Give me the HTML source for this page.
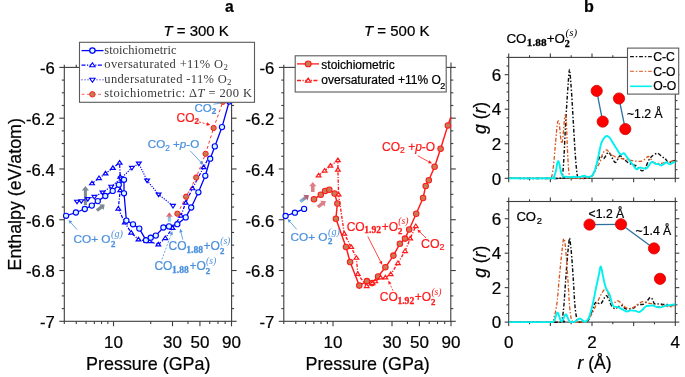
<!DOCTYPE html>
<html><head><meta charset="utf-8"><style>
html,body{margin:0;padding:0;background:#fff;overflow:hidden}
svg{display:block;will-change:transform}
</style></head><body>
<svg width="685" height="377" viewBox="0 0 685 377">
<rect width="685" height="377" fill="#fff"/>
<g stroke="#3c3c3c" stroke-width="1.1" fill="none">
<rect x="64.3" y="67.4" width="167.3" height="253.9"/>
<line x1="59.3" y1="67.4" x2="64.3" y2="67.4"/>
<line x1="231.6" y1="67.4" x2="236.6" y2="67.4"/>
<line x1="61.8" y1="80.09" x2="64.3" y2="80.09"/>
<line x1="231.6" y1="80.09" x2="234.1" y2="80.09"/>
<line x1="61.8" y1="92.79" x2="64.3" y2="92.79"/>
<line x1="231.6" y1="92.79" x2="234.1" y2="92.79"/>
<line x1="61.8" y1="105.49" x2="64.3" y2="105.49"/>
<line x1="231.6" y1="105.49" x2="234.1" y2="105.49"/>
<line x1="59.3" y1="118.18" x2="64.3" y2="118.18"/>
<line x1="231.6" y1="118.18" x2="236.6" y2="118.18"/>
<line x1="61.8" y1="130.88" x2="64.3" y2="130.88"/>
<line x1="231.6" y1="130.88" x2="234.1" y2="130.88"/>
<line x1="61.8" y1="143.57" x2="64.3" y2="143.57"/>
<line x1="231.6" y1="143.57" x2="234.1" y2="143.57"/>
<line x1="61.8" y1="156.26" x2="64.3" y2="156.26"/>
<line x1="231.6" y1="156.26" x2="234.1" y2="156.26"/>
<line x1="59.3" y1="168.96" x2="64.3" y2="168.96"/>
<line x1="231.6" y1="168.96" x2="236.6" y2="168.96"/>
<line x1="61.8" y1="181.66" x2="64.3" y2="181.66"/>
<line x1="231.6" y1="181.66" x2="234.1" y2="181.66"/>
<line x1="61.8" y1="194.35" x2="64.3" y2="194.35"/>
<line x1="231.6" y1="194.35" x2="234.1" y2="194.35"/>
<line x1="61.8" y1="207.04" x2="64.3" y2="207.04"/>
<line x1="231.6" y1="207.04" x2="234.1" y2="207.04"/>
<line x1="59.3" y1="219.74" x2="64.3" y2="219.74"/>
<line x1="231.6" y1="219.74" x2="236.6" y2="219.74"/>
<line x1="61.8" y1="232.44" x2="64.3" y2="232.44"/>
<line x1="231.6" y1="232.44" x2="234.1" y2="232.44"/>
<line x1="61.8" y1="245.13" x2="64.3" y2="245.13"/>
<line x1="231.6" y1="245.13" x2="234.1" y2="245.13"/>
<line x1="61.8" y1="257.83" x2="64.3" y2="257.83"/>
<line x1="231.6" y1="257.83" x2="234.1" y2="257.83"/>
<line x1="59.3" y1="270.52" x2="64.3" y2="270.52"/>
<line x1="231.6" y1="270.52" x2="236.6" y2="270.52"/>
<line x1="61.8" y1="283.21" x2="64.3" y2="283.21"/>
<line x1="231.6" y1="283.21" x2="234.1" y2="283.21"/>
<line x1="61.8" y1="295.91" x2="64.3" y2="295.91"/>
<line x1="231.6" y1="295.91" x2="234.1" y2="295.91"/>
<line x1="61.8" y1="308.61" x2="64.3" y2="308.61"/>
<line x1="231.6" y1="308.61" x2="234.1" y2="308.61"/>
<line x1="59.3" y1="321.3" x2="64.3" y2="321.3"/>
<line x1="231.6" y1="321.3" x2="236.6" y2="321.3"/>
<line x1="64.3" y1="321.3" x2="64.3" y2="324"/>
<line x1="64.3" y1="64.7" x2="64.3" y2="67.4"/>
<line x1="76.28" y1="321.3" x2="76.28" y2="324"/>
<line x1="76.28" y1="64.7" x2="76.28" y2="67.4"/>
<line x1="86.07" y1="321.3" x2="86.07" y2="324"/>
<line x1="86.07" y1="64.7" x2="86.07" y2="67.4"/>
<line x1="94.35" y1="321.3" x2="94.35" y2="324"/>
<line x1="94.35" y1="64.7" x2="94.35" y2="67.4"/>
<line x1="101.52" y1="321.3" x2="101.52" y2="324"/>
<line x1="101.52" y1="64.7" x2="101.52" y2="67.4"/>
<line x1="107.85" y1="321.3" x2="107.85" y2="324"/>
<line x1="107.85" y1="64.7" x2="107.85" y2="67.4"/>
<line x1="113.51" y1="321.3" x2="113.51" y2="326.3"/>
<line x1="113.51" y1="62.4" x2="113.51" y2="67.4"/>
<line x1="150.73" y1="321.3" x2="150.73" y2="324"/>
<line x1="150.73" y1="64.7" x2="150.73" y2="67.4"/>
<line x1="172.5" y1="321.3" x2="172.5" y2="326.3"/>
<line x1="172.5" y1="62.4" x2="172.5" y2="67.4"/>
<line x1="187.95" y1="321.3" x2="187.95" y2="324"/>
<line x1="187.95" y1="64.7" x2="187.95" y2="67.4"/>
<line x1="199.93" y1="321.3" x2="199.93" y2="326.3"/>
<line x1="199.93" y1="62.4" x2="199.93" y2="67.4"/>
<line x1="209.72" y1="321.3" x2="209.72" y2="324"/>
<line x1="209.72" y1="64.7" x2="209.72" y2="67.4"/>
<line x1="218" y1="321.3" x2="218" y2="324"/>
<line x1="218" y1="64.7" x2="218" y2="67.4"/>
<line x1="225.17" y1="321.3" x2="225.17" y2="324"/>
<line x1="225.17" y1="64.7" x2="225.17" y2="67.4"/>
<line x1="231.5" y1="321.3" x2="231.5" y2="326.3"/>
<line x1="231.5" y1="62.4" x2="231.5" y2="67.4"/>
</g>
<text x="54.8" y="74.2" font-family='"Liberation Sans",sans-serif' font-size="16.7" text-anchor="end" fill="#000" font-weight="normal" font-style="normal"  stroke="#000" stroke-width="0.22">-6</text>
<text x="54.8" y="124.98" font-family='"Liberation Sans",sans-serif' font-size="16.7" text-anchor="end" fill="#000" font-weight="normal" font-style="normal"  stroke="#000" stroke-width="0.22">-6.2</text>
<text x="54.8" y="175.76" font-family='"Liberation Sans",sans-serif' font-size="16.7" text-anchor="end" fill="#000" font-weight="normal" font-style="normal"  stroke="#000" stroke-width="0.22">-6.4</text>
<text x="54.8" y="226.54" font-family='"Liberation Sans",sans-serif' font-size="16.7" text-anchor="end" fill="#000" font-weight="normal" font-style="normal"  stroke="#000" stroke-width="0.22">-6.6</text>
<text x="54.8" y="277.32" font-family='"Liberation Sans",sans-serif' font-size="16.7" text-anchor="end" fill="#000" font-weight="normal" font-style="normal"  stroke="#000" stroke-width="0.22">-6.8</text>
<text x="54.8" y="328.1" font-family='"Liberation Sans",sans-serif' font-size="16.7" text-anchor="end" fill="#000" font-weight="normal" font-style="normal"  stroke="#000" stroke-width="0.22">-7</text>
<text x="113.51" y="348" font-family='"Liberation Sans",sans-serif' font-size="17" text-anchor="middle" fill="#000" font-weight="normal" font-style="normal"  stroke="#000" stroke-width="0.22">10</text>
<text x="172.5" y="348" font-family='"Liberation Sans",sans-serif' font-size="17" text-anchor="middle" fill="#000" font-weight="normal" font-style="normal"  stroke="#000" stroke-width="0.22">30</text>
<text x="199.93" y="348" font-family='"Liberation Sans",sans-serif' font-size="17" text-anchor="middle" fill="#000" font-weight="normal" font-style="normal"  stroke="#000" stroke-width="0.22">50</text>
<text x="231.5" y="348" font-family='"Liberation Sans",sans-serif' font-size="17" text-anchor="middle" fill="#000" font-weight="normal" font-style="normal"  stroke="#000" stroke-width="0.22">90</text>
<text x="148.25" y="369.9" font-family='"Liberation Sans",sans-serif' font-size="17.9" text-anchor="middle" fill="#000" font-weight="normal" font-style="normal"  stroke="#000" stroke-width="0.22">Pressure (GPa)</text>
<g stroke="#3c3c3c" stroke-width="1.1" fill="none">
<rect x="283.8" y="67.4" width="167" height="253.9"/>
<line x1="278.8" y1="67.4" x2="283.8" y2="67.4"/>
<line x1="450.8" y1="67.4" x2="455.8" y2="67.4"/>
<line x1="281.3" y1="80.09" x2="283.8" y2="80.09"/>
<line x1="450.8" y1="80.09" x2="453.3" y2="80.09"/>
<line x1="281.3" y1="92.79" x2="283.8" y2="92.79"/>
<line x1="450.8" y1="92.79" x2="453.3" y2="92.79"/>
<line x1="281.3" y1="105.49" x2="283.8" y2="105.49"/>
<line x1="450.8" y1="105.49" x2="453.3" y2="105.49"/>
<line x1="278.8" y1="118.18" x2="283.8" y2="118.18"/>
<line x1="450.8" y1="118.18" x2="455.8" y2="118.18"/>
<line x1="281.3" y1="130.88" x2="283.8" y2="130.88"/>
<line x1="450.8" y1="130.88" x2="453.3" y2="130.88"/>
<line x1="281.3" y1="143.57" x2="283.8" y2="143.57"/>
<line x1="450.8" y1="143.57" x2="453.3" y2="143.57"/>
<line x1="281.3" y1="156.26" x2="283.8" y2="156.26"/>
<line x1="450.8" y1="156.26" x2="453.3" y2="156.26"/>
<line x1="278.8" y1="168.96" x2="283.8" y2="168.96"/>
<line x1="450.8" y1="168.96" x2="455.8" y2="168.96"/>
<line x1="281.3" y1="181.66" x2="283.8" y2="181.66"/>
<line x1="450.8" y1="181.66" x2="453.3" y2="181.66"/>
<line x1="281.3" y1="194.35" x2="283.8" y2="194.35"/>
<line x1="450.8" y1="194.35" x2="453.3" y2="194.35"/>
<line x1="281.3" y1="207.04" x2="283.8" y2="207.04"/>
<line x1="450.8" y1="207.04" x2="453.3" y2="207.04"/>
<line x1="278.8" y1="219.74" x2="283.8" y2="219.74"/>
<line x1="450.8" y1="219.74" x2="455.8" y2="219.74"/>
<line x1="281.3" y1="232.44" x2="283.8" y2="232.44"/>
<line x1="450.8" y1="232.44" x2="453.3" y2="232.44"/>
<line x1="281.3" y1="245.13" x2="283.8" y2="245.13"/>
<line x1="450.8" y1="245.13" x2="453.3" y2="245.13"/>
<line x1="281.3" y1="257.83" x2="283.8" y2="257.83"/>
<line x1="450.8" y1="257.83" x2="453.3" y2="257.83"/>
<line x1="278.8" y1="270.52" x2="283.8" y2="270.52"/>
<line x1="450.8" y1="270.52" x2="455.8" y2="270.52"/>
<line x1="281.3" y1="283.21" x2="283.8" y2="283.21"/>
<line x1="450.8" y1="283.21" x2="453.3" y2="283.21"/>
<line x1="281.3" y1="295.91" x2="283.8" y2="295.91"/>
<line x1="450.8" y1="295.91" x2="453.3" y2="295.91"/>
<line x1="281.3" y1="308.61" x2="283.8" y2="308.61"/>
<line x1="450.8" y1="308.61" x2="453.3" y2="308.61"/>
<line x1="278.8" y1="321.3" x2="283.8" y2="321.3"/>
<line x1="450.8" y1="321.3" x2="455.8" y2="321.3"/>
<line x1="283.8" y1="321.3" x2="283.8" y2="324"/>
<line x1="283.8" y1="64.7" x2="283.8" y2="67.4"/>
<line x1="295.78" y1="321.3" x2="295.78" y2="324"/>
<line x1="295.78" y1="64.7" x2="295.78" y2="67.4"/>
<line x1="305.57" y1="321.3" x2="305.57" y2="324"/>
<line x1="305.57" y1="64.7" x2="305.57" y2="67.4"/>
<line x1="313.85" y1="321.3" x2="313.85" y2="324"/>
<line x1="313.85" y1="64.7" x2="313.85" y2="67.4"/>
<line x1="321.02" y1="321.3" x2="321.02" y2="324"/>
<line x1="321.02" y1="64.7" x2="321.02" y2="67.4"/>
<line x1="327.35" y1="321.3" x2="327.35" y2="324"/>
<line x1="327.35" y1="64.7" x2="327.35" y2="67.4"/>
<line x1="333.01" y1="321.3" x2="333.01" y2="326.3"/>
<line x1="333.01" y1="62.4" x2="333.01" y2="67.4"/>
<line x1="370.23" y1="321.3" x2="370.23" y2="324"/>
<line x1="370.23" y1="64.7" x2="370.23" y2="67.4"/>
<line x1="392" y1="321.3" x2="392" y2="326.3"/>
<line x1="392" y1="62.4" x2="392" y2="67.4"/>
<line x1="407.45" y1="321.3" x2="407.45" y2="324"/>
<line x1="407.45" y1="64.7" x2="407.45" y2="67.4"/>
<line x1="419.43" y1="321.3" x2="419.43" y2="326.3"/>
<line x1="419.43" y1="62.4" x2="419.43" y2="67.4"/>
<line x1="429.22" y1="321.3" x2="429.22" y2="324"/>
<line x1="429.22" y1="64.7" x2="429.22" y2="67.4"/>
<line x1="437.5" y1="321.3" x2="437.5" y2="324"/>
<line x1="437.5" y1="64.7" x2="437.5" y2="67.4"/>
<line x1="444.67" y1="321.3" x2="444.67" y2="324"/>
<line x1="444.67" y1="64.7" x2="444.67" y2="67.4"/>
<line x1="451" y1="321.3" x2="451" y2="326.3"/>
<line x1="451" y1="62.4" x2="451" y2="67.4"/>
</g>
<text x="274.3" y="74.2" font-family='"Liberation Sans",sans-serif' font-size="16.7" text-anchor="end" fill="#000" font-weight="normal" font-style="normal"  stroke="#000" stroke-width="0.22">-6</text>
<text x="274.3" y="124.98" font-family='"Liberation Sans",sans-serif' font-size="16.7" text-anchor="end" fill="#000" font-weight="normal" font-style="normal"  stroke="#000" stroke-width="0.22">-6.2</text>
<text x="274.3" y="175.76" font-family='"Liberation Sans",sans-serif' font-size="16.7" text-anchor="end" fill="#000" font-weight="normal" font-style="normal"  stroke="#000" stroke-width="0.22">-6.4</text>
<text x="274.3" y="226.54" font-family='"Liberation Sans",sans-serif' font-size="16.7" text-anchor="end" fill="#000" font-weight="normal" font-style="normal"  stroke="#000" stroke-width="0.22">-6.6</text>
<text x="274.3" y="277.32" font-family='"Liberation Sans",sans-serif' font-size="16.7" text-anchor="end" fill="#000" font-weight="normal" font-style="normal"  stroke="#000" stroke-width="0.22">-6.8</text>
<text x="274.3" y="328.1" font-family='"Liberation Sans",sans-serif' font-size="16.7" text-anchor="end" fill="#000" font-weight="normal" font-style="normal"  stroke="#000" stroke-width="0.22">-7</text>
<text x="333.01" y="348" font-family='"Liberation Sans",sans-serif' font-size="17" text-anchor="middle" fill="#000" font-weight="normal" font-style="normal"  stroke="#000" stroke-width="0.22">10</text>
<text x="392" y="348" font-family='"Liberation Sans",sans-serif' font-size="17" text-anchor="middle" fill="#000" font-weight="normal" font-style="normal"  stroke="#000" stroke-width="0.22">30</text>
<text x="419.43" y="348" font-family='"Liberation Sans",sans-serif' font-size="17" text-anchor="middle" fill="#000" font-weight="normal" font-style="normal"  stroke="#000" stroke-width="0.22">50</text>
<text x="451" y="348" font-family='"Liberation Sans",sans-serif' font-size="17" text-anchor="middle" fill="#000" font-weight="normal" font-style="normal"  stroke="#000" stroke-width="0.22">90</text>
<text x="367.6" y="369.9" font-family='"Liberation Sans",sans-serif' font-size="17.9" text-anchor="middle" fill="#000" font-weight="normal" font-style="normal"  stroke="#000" stroke-width="0.22">Pressure (GPa)</text>
<text transform="translate(21.2,194.3) rotate(-90)" font-family='"Liberation Sans",sans-serif' font-size="17.8" text-anchor="middle" stroke="#000" stroke-width="0.22">Enthalpy (eV/atom)</text>
<text x="163.4" y="35.9" font-family='"Liberation Sans",sans-serif' font-size="15" stroke="#000" stroke-width="0.22"><tspan font-style="italic">T</tspan> = 300 K</text>
<text x="364.0" y="35.5" font-family='"Liberation Sans",sans-serif' font-size="15" stroke="#000" stroke-width="0.22"><tspan font-style="italic">T</tspan> = 500 K</text>
<text transform="translate(224.9,11.9) scale(0.92,1)" font-family='"Liberation Sans",sans-serif' font-size="17" font-weight="bold" stroke="#000" stroke-width="0.22">a</text>
<text transform="translate(584.1,11.9) scale(0.95,1)" font-family='"Liberation Sans",sans-serif' font-size="17" font-weight="bold" stroke="#000" stroke-width="0.22">b</text>

<polygon points="86.9,205 86.9,190.4 89,190.4 85.4,186 81.8,190.4 83.9,190.4 83.9,205" fill="#7b8a93"/>
<polygon points="97.77,211.87 102.32,208.41 103.59,210.09 104.7,204.6 99.12,204.19 100.39,205.87 95.83,209.33" fill="#7b8a93"/>
<polygon points="170.8,221.8 170.8,216.8 172.7,216.8 169.3,212.6 165.9,216.8 167.8,216.8 167.8,221.8" fill="url(#gup)"/>
<polygon points="314.55,192 314.55,186.3 316.4,186.3 312.8,181.9 309.2,186.3 311.05,186.3 311.05,192" fill="#dc7f88"/>
<polygon points="301.18,202.93 306.41,199.08 307.63,200.73 308.9,195.2 303.24,194.77 304.46,196.42 299.22,200.27" fill="url(#gdiag)"/>
<polygon points="318.81,208.37 323.35,205.02 324.54,206.63 325.8,201.1 320.14,200.67 321.33,202.28 316.79,205.63" fill="#dc7f88"/>

<polyline points="92,183.4 99,178.2 105.5,173.6 112.9,168 119.6,162.7 120.2,176.9 120.2,190.3 118.3,208.7 124.8,222.6 131.2,232.7 138.5,239.6 146.4,240.9 149.6,241.3 158.3,244.6 165.3,238.2 172.5,228.1 180.9,215.7 185.7,202.8 192.5,188.4 203.6,167.3 208,159" fill="none" stroke="#0000ff" stroke-width="1.25" stroke-linejoin="round" stroke-dasharray="3.2 1.5 1.1 1.5" />
<polyline points="77,201.6 81.3,201.1 87.8,198.9 94.4,196.8 102.5,192.4 111.2,186.6 121,178.5 131.9,167.8 138.8,163.5 147.1,180.5 158.6,194.5 173,205.8" fill="none" stroke="#0000ff" stroke-width="1.2" stroke-linejoin="round" stroke-dasharray="1.2 1.3" />
<polyline points="66.1,215.8 75.9,212.5 84.8,209 91.8,205.6 97.8,201.1 105.3,196 112.7,190.9 118.8,184.8 124,179.8 124,193.3 126.4,220.6 133,224.3 139.3,228.6 146,240.2 150.7,237.7 155.8,235.6 163.4,227.5 169,226.4 177.3,224.2 185.7,217.4 191.2,207.5 198.4,192.3 205.3,175.8 210.2,158.7 214.8,146.4 222,127.1 229.2,101.5 231.6,94" fill="none" stroke="#0000ff" stroke-width="1.3" stroke-linejoin="round" />
<polygon points="92,181.21 89.65,184.74 94.35,184.74" fill="#fff" stroke="#0000ff" stroke-width="1.2" stroke-linejoin="miter"/>
<polygon points="99,176.01 96.65,179.54 101.35,179.54" fill="#fff" stroke="#0000ff" stroke-width="1.2" stroke-linejoin="miter"/>
<polygon points="105.5,171.41 103.15,174.94 107.85,174.94" fill="#fff" stroke="#0000ff" stroke-width="1.2" stroke-linejoin="miter"/>
<polygon points="112.9,165.81 110.55,169.34 115.25,169.34" fill="#fff" stroke="#0000ff" stroke-width="1.2" stroke-linejoin="miter"/>
<polygon points="119.6,160.51 117.25,164.04 121.95,164.04" fill="#fff" stroke="#0000ff" stroke-width="1.2" stroke-linejoin="miter"/>
<polygon points="120.2,174.71 117.85,178.24 122.55,178.24" fill="#fff" stroke="#0000ff" stroke-width="1.2" stroke-linejoin="miter"/>
<polygon points="120.2,188.11 117.85,191.64 122.55,191.64" fill="#fff" stroke="#0000ff" stroke-width="1.2" stroke-linejoin="miter"/>
<polygon points="118.3,206.51 115.95,210.04 120.65,210.04" fill="#fff" stroke="#0000ff" stroke-width="1.2" stroke-linejoin="miter"/>
<polygon points="124.8,220.41 122.45,223.94 127.15,223.94" fill="#fff" stroke="#0000ff" stroke-width="1.2" stroke-linejoin="miter"/>
<polygon points="131.2,230.51 128.85,234.04 133.55,234.04" fill="#fff" stroke="#0000ff" stroke-width="1.2" stroke-linejoin="miter"/>
<polygon points="138.5,237.41 136.15,240.94 140.85,240.94" fill="#fff" stroke="#0000ff" stroke-width="1.2" stroke-linejoin="miter"/>
<polygon points="146.4,238.71 144.05,242.24 148.75,242.24" fill="#fff" stroke="#0000ff" stroke-width="1.2" stroke-linejoin="miter"/>
<polygon points="149.6,239.11 147.25,242.64 151.95,242.64" fill="#fff" stroke="#0000ff" stroke-width="1.2" stroke-linejoin="miter"/>
<polygon points="158.3,242.41 155.95,245.94 160.65,245.94" fill="#fff" stroke="#0000ff" stroke-width="1.2" stroke-linejoin="miter"/>
<polygon points="165.3,236.01 162.95,239.54 167.65,239.54" fill="#fff" stroke="#0000ff" stroke-width="1.2" stroke-linejoin="miter"/>
<polygon points="172.5,225.91 170.15,229.44 174.85,229.44" fill="#fff" stroke="#0000ff" stroke-width="1.2" stroke-linejoin="miter"/>
<polygon points="180.9,213.51 178.55,217.04 183.25,217.04" fill="#fff" stroke="#0000ff" stroke-width="1.2" stroke-linejoin="miter"/>
<polygon points="185.7,200.61 183.35,204.14 188.05,204.14" fill="#fff" stroke="#0000ff" stroke-width="1.2" stroke-linejoin="miter"/>
<polygon points="192.5,186.21 190.15,189.74 194.85,189.74" fill="#fff" stroke="#0000ff" stroke-width="1.2" stroke-linejoin="miter"/>
<polygon points="203.6,165.11 201.25,168.64 205.95,168.64" fill="#fff" stroke="#0000ff" stroke-width="1.2" stroke-linejoin="miter"/>
<polygon points="77,203.79 74.65,200.26 79.35,200.26" fill="#fff" stroke="#0000ff" stroke-width="1.2" stroke-linejoin="miter"/>
<polygon points="81.3,203.29 78.95,199.76 83.65,199.76" fill="#fff" stroke="#0000ff" stroke-width="1.2" stroke-linejoin="miter"/>
<polygon points="87.8,201.09 85.45,197.56 90.15,197.56" fill="#fff" stroke="#0000ff" stroke-width="1.2" stroke-linejoin="miter"/>
<polygon points="94.4,198.99 92.05,195.46 96.75,195.46" fill="#fff" stroke="#0000ff" stroke-width="1.2" stroke-linejoin="miter"/>
<polygon points="102.5,194.59 100.15,191.06 104.85,191.06" fill="#fff" stroke="#0000ff" stroke-width="1.2" stroke-linejoin="miter"/>
<polygon points="111.2,188.79 108.85,185.26 113.55,185.26" fill="#fff" stroke="#0000ff" stroke-width="1.2" stroke-linejoin="miter"/>
<polygon points="121,180.69 118.65,177.16 123.35,177.16" fill="#fff" stroke="#0000ff" stroke-width="1.2" stroke-linejoin="miter"/>
<polygon points="131.9,169.99 129.55,166.46 134.25,166.46" fill="#fff" stroke="#0000ff" stroke-width="1.2" stroke-linejoin="miter"/>
<polygon points="138.8,165.69 136.45,162.16 141.15,162.16" fill="#fff" stroke="#0000ff" stroke-width="1.2" stroke-linejoin="miter"/>
<polygon points="147.1,182.69 144.75,179.16 149.45,179.16" fill="#fff" stroke="#0000ff" stroke-width="1.2" stroke-linejoin="miter"/>
<polygon points="158.6,196.69 156.25,193.16 160.95,193.16" fill="#fff" stroke="#0000ff" stroke-width="1.2" stroke-linejoin="miter"/>
<polygon points="173,207.99 170.65,204.46 175.35,204.46" fill="#fff" stroke="#0000ff" stroke-width="1.2" stroke-linejoin="miter"/>
<circle cx="66.1" cy="215.8" r="2.6" fill="#d4faff" stroke="#0000ff" stroke-width="1.1"/>
<circle cx="75.9" cy="212.5" r="2.6" fill="#d4faff" stroke="#0000ff" stroke-width="1.1"/>
<circle cx="84.8" cy="209" r="2.6" fill="#d4faff" stroke="#0000ff" stroke-width="1.1"/>
<circle cx="91.8" cy="205.6" r="2.6" fill="#d4faff" stroke="#0000ff" stroke-width="1.1"/>
<circle cx="97.8" cy="201.1" r="2.6" fill="#d4faff" stroke="#0000ff" stroke-width="1.1"/>
<circle cx="105.3" cy="196" r="2.6" fill="#d4faff" stroke="#0000ff" stroke-width="1.1"/>
<circle cx="112.7" cy="190.9" r="2.6" fill="#d4faff" stroke="#0000ff" stroke-width="1.1"/>
<circle cx="118.8" cy="184.8" r="2.6" fill="#d4faff" stroke="#0000ff" stroke-width="1.1"/>
<circle cx="124" cy="179.8" r="2.6" fill="#d4faff" stroke="#0000ff" stroke-width="1.1"/>
<circle cx="124" cy="193.3" r="2.6" fill="#d4faff" stroke="#0000ff" stroke-width="1.1"/>
<circle cx="126.4" cy="220.6" r="2.6" fill="#d4faff" stroke="#0000ff" stroke-width="1.1"/>
<circle cx="133" cy="224.3" r="2.6" fill="#d4faff" stroke="#0000ff" stroke-width="1.1"/>
<circle cx="139.3" cy="228.6" r="2.6" fill="#d4faff" stroke="#0000ff" stroke-width="1.1"/>
<circle cx="146" cy="240.2" r="2.6" fill="#d4faff" stroke="#0000ff" stroke-width="1.1"/>
<circle cx="150.7" cy="237.7" r="2.6" fill="#d4faff" stroke="#0000ff" stroke-width="1.1"/>
<circle cx="155.8" cy="235.6" r="2.6" fill="#d4faff" stroke="#0000ff" stroke-width="1.1"/>
<circle cx="163.4" cy="227.5" r="2.6" fill="#d4faff" stroke="#0000ff" stroke-width="1.1"/>
<circle cx="169" cy="226.4" r="2.6" fill="#d4faff" stroke="#0000ff" stroke-width="1.1"/>
<circle cx="177.3" cy="224.2" r="2.6" fill="#d4faff" stroke="#0000ff" stroke-width="1.1"/>
<circle cx="185.7" cy="217.4" r="2.6" fill="#d4faff" stroke="#0000ff" stroke-width="1.1"/>
<circle cx="191.2" cy="207.5" r="2.6" fill="#d4faff" stroke="#0000ff" stroke-width="1.1"/>
<circle cx="198.4" cy="192.3" r="2.6" fill="#d4faff" stroke="#0000ff" stroke-width="1.1"/>
<circle cx="205.3" cy="175.8" r="2.6" fill="#d4faff" stroke="#0000ff" stroke-width="1.1"/>
<circle cx="210.2" cy="158.7" r="2.6" fill="#d4faff" stroke="#0000ff" stroke-width="1.1"/>
<circle cx="214.8" cy="146.4" r="2.6" fill="#d4faff" stroke="#0000ff" stroke-width="1.1"/>
<circle cx="222" cy="127.1" r="2.6" fill="#d4faff" stroke="#0000ff" stroke-width="1.1"/>
<circle cx="229.2" cy="101.5" r="2.6" fill="#d4faff" stroke="#0000ff" stroke-width="1.1"/>
<polyline points="177.4,213.7 186.1,196.7 196.2,177.5 205.6,153.8 213.6,128 222.9,101.8" fill="none" stroke="#ff1a1a" stroke-width="0.9" stroke-linejoin="round" stroke-dasharray="3 2.5" />
<circle cx="177.4" cy="213.7" r="2.65" fill="#c97b54" stroke="#ff1a1a" stroke-width="1.0"/>
<circle cx="186.1" cy="196.7" r="2.65" fill="#c97b54" stroke="#ff1a1a" stroke-width="1.0"/>
<circle cx="196.2" cy="177.5" r="2.65" fill="#c97b54" stroke="#ff1a1a" stroke-width="1.0"/>
<circle cx="205.6" cy="153.8" r="2.65" fill="#c97b54" stroke="#ff1a1a" stroke-width="1.0"/>
<circle cx="213.6" cy="128" r="2.65" fill="#c97b54" stroke="#ff1a1a" stroke-width="1.0"/>
<circle cx="222.9" cy="101.8" r="2.65" fill="#c97b54" stroke="#ff1a1a" stroke-width="1.0"/>
<polyline points="285.6,216 294.9,212.7 304.1,208.9" fill="none" stroke="#0000ff" stroke-width="1.3" stroke-linejoin="round" />
<circle cx="285.6" cy="216" r="2.6" fill="#d4faff" stroke="#0000ff" stroke-width="1.1"/>
<circle cx="294.9" cy="212.7" r="2.6" fill="#d4faff" stroke="#0000ff" stroke-width="1.1"/>
<circle cx="304.1" cy="208.9" r="2.6" fill="#d4faff" stroke="#0000ff" stroke-width="1.1"/>
<polyline points="314,199.3 320.8,194.7 325.1,191 329.3,189.8 334.6,193.5 337.4,203.4 335.9,218.7 346,246.9 350.1,262 359.3,285.6 366.9,281.1 372.1,283.1 378.1,276.5 385.4,267.3 393.4,255.6 399.9,243.7 405,238.6 409.2,229.5 416.2,213.8 423.1,198 425.7,185.9 428.8,180.2 434.6,166.8 440.6,148.7 447.9,125.4 450.8,117" fill="none" stroke="#ff1a1a" stroke-width="1.45" stroke-linejoin="round" />
<circle cx="314" cy="199.3" r="2.75" fill="#c97b54" stroke="#ff1a1a" stroke-width="1.05"/>
<circle cx="320.8" cy="194.7" r="2.75" fill="#c97b54" stroke="#ff1a1a" stroke-width="1.05"/>
<circle cx="325.1" cy="191" r="2.75" fill="#c97b54" stroke="#ff1a1a" stroke-width="1.05"/>
<circle cx="329.3" cy="189.8" r="2.75" fill="#c97b54" stroke="#ff1a1a" stroke-width="1.05"/>
<circle cx="334.6" cy="193.5" r="2.75" fill="#c97b54" stroke="#ff1a1a" stroke-width="1.05"/>
<circle cx="337.4" cy="203.4" r="2.75" fill="#c97b54" stroke="#ff1a1a" stroke-width="1.05"/>
<circle cx="335.9" cy="218.7" r="2.75" fill="#c97b54" stroke="#ff1a1a" stroke-width="1.05"/>
<circle cx="346" cy="246.9" r="2.75" fill="#c97b54" stroke="#ff1a1a" stroke-width="1.05"/>
<circle cx="350.1" cy="262" r="2.75" fill="#c97b54" stroke="#ff1a1a" stroke-width="1.05"/>
<circle cx="359.3" cy="285.6" r="2.75" fill="#c97b54" stroke="#ff1a1a" stroke-width="1.05"/>
<circle cx="366.9" cy="281.1" r="2.75" fill="#c97b54" stroke="#ff1a1a" stroke-width="1.05"/>
<circle cx="372.1" cy="283.1" r="2.75" fill="#c97b54" stroke="#ff1a1a" stroke-width="1.05"/>
<circle cx="378.1" cy="276.5" r="2.75" fill="#c97b54" stroke="#ff1a1a" stroke-width="1.05"/>
<circle cx="385.4" cy="267.3" r="2.75" fill="#c97b54" stroke="#ff1a1a" stroke-width="1.05"/>
<circle cx="393.4" cy="255.6" r="2.75" fill="#c97b54" stroke="#ff1a1a" stroke-width="1.05"/>
<circle cx="399.9" cy="243.7" r="2.75" fill="#c97b54" stroke="#ff1a1a" stroke-width="1.05"/>
<circle cx="405" cy="238.6" r="2.75" fill="#c97b54" stroke="#ff1a1a" stroke-width="1.05"/>
<circle cx="409.2" cy="229.5" r="2.75" fill="#c97b54" stroke="#ff1a1a" stroke-width="1.05"/>
<circle cx="416.2" cy="213.8" r="2.75" fill="#c97b54" stroke="#ff1a1a" stroke-width="1.05"/>
<circle cx="423.1" cy="198" r="2.75" fill="#c97b54" stroke="#ff1a1a" stroke-width="1.05"/>
<circle cx="425.7" cy="185.9" r="2.75" fill="#c97b54" stroke="#ff1a1a" stroke-width="1.05"/>
<circle cx="428.8" cy="180.2" r="2.75" fill="#c97b54" stroke="#ff1a1a" stroke-width="1.05"/>
<circle cx="434.6" cy="166.8" r="2.75" fill="#c97b54" stroke="#ff1a1a" stroke-width="1.05"/>
<circle cx="440.6" cy="148.7" r="2.75" fill="#c97b54" stroke="#ff1a1a" stroke-width="1.05"/>
<circle cx="447.9" cy="125.4" r="2.75" fill="#c97b54" stroke="#ff1a1a" stroke-width="1.05"/>
<polyline points="318.6,175.5 324.6,170.7 330.4,165.8 337.9,160.3 337.9,169.8 338.6,194.6 344.3,233.8 351.2,247.1 356.4,257.9 357.8,274.1 366.7,286.2 372.4,283.2 375.3,281.4 380.5,277.6 385.4,277.6 390.7,274.3 397.9,263.2 405,251.2 410.2,238.5 415.8,226.2" fill="none" stroke="#ff1a1a" stroke-width="1.35" stroke-linejoin="round" stroke-dasharray="3.2 1.5 1.1 1.5" />
<polygon points="318.6,173.31 316.25,176.84 320.95,176.84" fill="#fff" stroke="#ff1a1a" stroke-width="1.2" stroke-linejoin="miter"/>
<polygon points="324.6,168.51 322.25,172.04 326.95,172.04" fill="#fff" stroke="#ff1a1a" stroke-width="1.2" stroke-linejoin="miter"/>
<polygon points="330.4,163.61 328.05,167.14 332.75,167.14" fill="#fff" stroke="#ff1a1a" stroke-width="1.2" stroke-linejoin="miter"/>
<polygon points="337.9,158.11 335.55,161.64 340.25,161.64" fill="#fff" stroke="#ff1a1a" stroke-width="1.2" stroke-linejoin="miter"/>
<polygon points="337.9,167.61 335.55,171.14 340.25,171.14" fill="#fff" stroke="#ff1a1a" stroke-width="1.2" stroke-linejoin="miter"/>
<polygon points="338.6,192.41 336.25,195.94 340.95,195.94" fill="#fff" stroke="#ff1a1a" stroke-width="1.2" stroke-linejoin="miter"/>
<polygon points="344.3,231.61 341.95,235.14 346.65,235.14" fill="#fff" stroke="#ff1a1a" stroke-width="1.2" stroke-linejoin="miter"/>
<polygon points="351.2,244.91 348.85,248.44 353.55,248.44" fill="#fff" stroke="#ff1a1a" stroke-width="1.2" stroke-linejoin="miter"/>
<polygon points="356.4,255.71 354.05,259.24 358.75,259.24" fill="#fff" stroke="#ff1a1a" stroke-width="1.2" stroke-linejoin="miter"/>
<polygon points="357.8,271.91 355.45,275.44 360.15,275.44" fill="#fff" stroke="#ff1a1a" stroke-width="1.2" stroke-linejoin="miter"/>
<polygon points="366.7,284.01 364.35,287.54 369.05,287.54" fill="#fff" stroke="#ff1a1a" stroke-width="1.2" stroke-linejoin="miter"/>
<polygon points="372.4,281.01 370.05,284.54 374.75,284.54" fill="#fff" stroke="#ff1a1a" stroke-width="1.2" stroke-linejoin="miter"/>
<polygon points="375.3,279.21 372.95,282.74 377.65,282.74" fill="#fff" stroke="#ff1a1a" stroke-width="1.2" stroke-linejoin="miter"/>
<polygon points="380.5,275.41 378.15,278.94 382.85,278.94" fill="#fff" stroke="#ff1a1a" stroke-width="1.2" stroke-linejoin="miter"/>
<polygon points="385.4,275.41 383.05,278.94 387.75,278.94" fill="#fff" stroke="#ff1a1a" stroke-width="1.2" stroke-linejoin="miter"/>
<polygon points="390.7,272.11 388.35,275.64 393.05,275.64" fill="#fff" stroke="#ff1a1a" stroke-width="1.2" stroke-linejoin="miter"/>
<polygon points="397.9,261.01 395.55,264.54 400.25,264.54" fill="#fff" stroke="#ff1a1a" stroke-width="1.2" stroke-linejoin="miter"/>
<polygon points="405,249.01 402.65,252.54 407.35,252.54" fill="#fff" stroke="#ff1a1a" stroke-width="1.2" stroke-linejoin="miter"/>
<polygon points="410.2,236.31 407.85,239.84 412.55,239.84" fill="#fff" stroke="#ff1a1a" stroke-width="1.2" stroke-linejoin="miter"/>
<polygon points="415.8,224.01 413.45,227.54 418.15,227.54" fill="#fff" stroke="#ff1a1a" stroke-width="1.2" stroke-linejoin="miter"/>
<defs><linearGradient id="gup" x1="0" y1="1" x2="0" y2="0"><stop offset="0" stop-color="#86d2f0"/><stop offset="0.35" stop-color="#90c8e8"/><stop offset="0.7" stop-color="#de6f78"/><stop offset="1" stop-color="#e83a3a"/></linearGradient><linearGradient id="gdiag" gradientUnits="userSpaceOnUse" x1="300.4" y1="201.3" x2="308.8" y2="195.3"><stop offset="0" stop-color="#70c8ee"/><stop offset="1" stop-color="#c8404e"/></linearGradient></defs>
<text x="73.5" y="243.1" font-family='"Liberation Sans",sans-serif' font-size="11.8" fill="#4a90dd" font-weight="normal" font-style="normal" stroke="#4a90dd" stroke-width="0.22">CO+ O</text>
<text x="110.9" y="246.8" font-family='"Liberation Serif",serif' font-size="8.8" fill="#4a90dd" font-weight="bold" font-style="normal" stroke="#4a90dd" stroke-width="0.3">2</text>
<text x="111.1" y="237.2" font-family='"Liberation Serif",serif' font-size="10.2" fill="#4a90dd" font-weight="normal" font-style="italic">(g)</text>
<line x1="77.1" y1="229.7" x2="70.97" y2="222.71" stroke="#4a90dd" stroke-width="0.8"/>
<polygon points="68.6,220 72.25,221.59 69.69,223.83" fill="#4a90dd"/>
<text x="168.6" y="250.3" font-family='"Liberation Sans",sans-serif' font-size="12" fill="#4a90dd" font-weight="normal" font-style="normal" stroke="#4a90dd" stroke-width="0.22">CO</text>
<text x="186.2" y="252.7" font-family='"Liberation Serif",serif' font-size="9.6" fill="#4a90dd" font-weight="bold" font-style="normal" stroke="#4a90dd" stroke-width="0.3">1.88</text>
<text x="203.6" y="250.3" font-family='"Liberation Sans",sans-serif' font-size="12" fill="#4a90dd" font-weight="normal" font-style="normal" stroke="#4a90dd" stroke-width="0.22">+O</text>
<text x="219.9" y="253.8" font-family='"Liberation Serif",serif' font-size="8.8" fill="#4a90dd" font-weight="bold" font-style="normal" stroke="#4a90dd" stroke-width="0.3">2</text>
<text x="220.2" y="244.1" font-family='"Liberation Serif",serif' font-size="9.6" fill="#4a90dd" font-weight="normal" font-style="italic">(s)</text>
<text x="154.4" y="270.3" font-family='"Liberation Sans",sans-serif' font-size="12" fill="#4a90dd" font-weight="normal" font-style="normal" stroke="#4a90dd" stroke-width="0.22">CO</text>
<text x="172" y="272.7" font-family='"Liberation Serif",serif' font-size="9.6" fill="#4a90dd" font-weight="bold" font-style="normal" stroke="#4a90dd" stroke-width="0.3">1.88</text>
<text x="189.4" y="270.3" font-family='"Liberation Sans",sans-serif' font-size="12" fill="#4a90dd" font-weight="normal" font-style="normal" stroke="#4a90dd" stroke-width="0.22">+O</text>
<text x="205.7" y="273.8" font-family='"Liberation Serif",serif' font-size="8.8" fill="#4a90dd" font-weight="bold" font-style="normal" stroke="#4a90dd" stroke-width="0.3">2</text>
<text x="206" y="264.1" font-family='"Liberation Serif",serif' font-size="9.6" fill="#4a90dd" font-weight="normal" font-style="italic">(s)</text>
<line x1="182.8" y1="239.6" x2="181.04" y2="232.3" stroke="#4a90dd" stroke-width="0.8"/>
<polygon points="180.2,228.8 182.7,231.9 179.39,232.7" fill="#4a90dd"/>
<line x1="161.9" y1="259.3" x2="171.14" y2="234.67" stroke="#4a90dd" stroke-width="0.8" stroke-dasharray="2 1.5"/>
<polygon points="172.4,231.3 172.73,235.27 169.54,234.07" fill="#4a90dd"/>
<text x="176.6" y="122" font-family='"Liberation Sans",sans-serif' font-size="12.0" fill="#ff1a1a"  stroke="#ff1a1a" stroke-width="0.22">CO<tspan font-size="8.2" font-weight="bold" dy="1.8">2</tspan></text>
<line x1="199.1" y1="122" x2="206.81" y2="124" stroke="#ff1a1a" stroke-width="0.9" stroke-dasharray="2 1.5"/>
<polygon points="210.3,124.9 206.39,125.64 207.24,122.35" fill="#ff1a1a"/>
<text x="194.4" y="111.7" font-family='"Liberation Sans",sans-serif' font-size="11.5" fill="#4a90dd"  stroke="#4a90dd" stroke-width="0.22">CO<tspan font-size="8.2" font-weight="bold" dy="2.2">2</tspan></text>
<line x1="213.5" y1="104.2" x2="221.5" y2="103" stroke="#4a90dd" stroke-width="0.8"/>
<text x="147.8" y="148.2" font-family='"Liberation Sans",sans-serif' font-size="11.6" fill="#4a90dd" stroke="#4a90dd" stroke-width="0.22">CO<tspan font-size="8.35" dy="2.5">2</tspan><tspan dy="-2.5"> +</tspan><tspan font-style="italic">p</tspan>-O</text>
<line x1="190.1" y1="150.7" x2="200.64" y2="161.97" stroke="#4a90dd" stroke-width="0.8"/>
<polygon points="203.1,164.6 199.4,163.13 201.88,160.81" fill="#4a90dd"/>
<text x="290.5" y="240.6" font-family='"Liberation Sans",sans-serif' font-size="11.8" fill="#4a90dd" font-weight="normal" font-style="normal" stroke="#4a90dd" stroke-width="0.22">CO+ O</text>
<text x="327.9" y="244.3" font-family='"Liberation Serif",serif' font-size="8.8" fill="#4a90dd" font-weight="bold" font-style="normal" stroke="#4a90dd" stroke-width="0.3">2</text>
<text x="328.1" y="234.7" font-family='"Liberation Serif",serif' font-size="10.2" fill="#4a90dd" font-weight="normal" font-style="italic">(g)</text>
<line x1="296.7" y1="229.4" x2="289.97" y2="221.71" stroke="#4a90dd" stroke-width="0.8"/>
<polygon points="287.6,219 291.25,220.59 288.69,222.83" fill="#4a90dd"/>
<text x="346.7" y="230.6" font-family='"Liberation Sans",sans-serif' font-size="12" fill="#ff1a1a" font-weight="normal" font-style="normal" stroke="#ff1a1a" stroke-width="0.22">CO</text>
<text x="364.3" y="233" font-family='"Liberation Serif",serif' font-size="9.6" fill="#ff1a1a" font-weight="bold" font-style="normal" stroke="#ff1a1a" stroke-width="0.3">1.92</text>
<text x="381.7" y="230.6" font-family='"Liberation Sans",sans-serif' font-size="12" fill="#ff1a1a" font-weight="normal" font-style="normal" stroke="#ff1a1a" stroke-width="0.22">+O</text>
<text x="398" y="234.1" font-family='"Liberation Serif",serif' font-size="8.8" fill="#ff1a1a" font-weight="bold" font-style="normal" stroke="#ff1a1a" stroke-width="0.3">2</text>
<text x="398.3" y="224.4" font-family='"Liberation Serif",serif' font-size="9.6" fill="#ff1a1a" font-weight="normal" font-style="italic">(s)</text>
<line x1="367.8" y1="236.5" x2="380.57" y2="261.59" stroke="#ff1a1a" stroke-width="0.8"/>
<polygon points="382.2,264.8 379.05,262.36 382.08,260.82" fill="#ff1a1a"/>
<text x="379.8" y="301.3" font-family='"Liberation Sans",sans-serif' font-size="12" fill="#ff1a1a" font-weight="normal" font-style="normal" stroke="#ff1a1a" stroke-width="0.22">CO</text>
<text x="397.4" y="303.7" font-family='"Liberation Serif",serif' font-size="9.6" fill="#ff1a1a" font-weight="bold" font-style="normal" stroke="#ff1a1a" stroke-width="0.3">1.92</text>
<text x="414.8" y="301.3" font-family='"Liberation Sans",sans-serif' font-size="12" fill="#ff1a1a" font-weight="normal" font-style="normal" stroke="#ff1a1a" stroke-width="0.22">+O</text>
<text x="431.1" y="304.8" font-family='"Liberation Serif",serif' font-size="8.8" fill="#ff1a1a" font-weight="bold" font-style="normal" stroke="#ff1a1a" stroke-width="0.3">2</text>
<text x="431.4" y="295.1" font-family='"Liberation Serif",serif' font-size="9.6" fill="#ff1a1a" font-weight="normal" font-style="italic">(s)</text>
<line x1="393" y1="290.7" x2="389.89" y2="283.88" stroke="#ff1a1a" stroke-width="0.8" stroke-dasharray="2 1.5"/>
<polygon points="388.4,280.6 391.44,283.17 388.35,284.58" fill="#ff1a1a"/>
<text x="421" y="247.7" font-family='"Liberation Sans",sans-serif' font-size="12.4" fill="#ff1a1a"  stroke="#ff1a1a" stroke-width="0.22">CO<tspan font-size="8.93" font-weight="normal" dy="2.5">2</tspan></text>
<line x1="426.1" y1="238.2" x2="419.93" y2="231.96" stroke="#ff1a1a" stroke-width="0.8"/>
<polygon points="417.4,229.4 421.14,230.76 418.72,233.16" fill="#ff1a1a"/>
<text x="382" y="150.9" font-family='"Liberation Sans",sans-serif' font-size="12" fill="#ff1a1a" stroke="#ff1a1a" stroke-width="0.22">CO<tspan font-size="8.64" dy="2.5">2</tspan><tspan dy="-2.5"> +</tspan><tspan font-style="italic">p</tspan>-O</text>
<line x1="417.7" y1="155.7" x2="428.85" y2="161.86" stroke="#ff1a1a" stroke-width="0.8"/>
<polygon points="432,163.6 428.03,163.35 429.67,160.37" fill="#ff1a1a"/>


<rect x="79.5" y="42.3" width="175" height="60" fill="#fff" stroke="#5a5a5a" stroke-width="1.1"/>
<line x1="81.5" y1="50.6" x2="103.5" y2="50.6" stroke="#0000ff" stroke-width="1.3" />
<circle cx="92.4" cy="50.6" r="2.7" fill="#d4faff" stroke="#0000ff" stroke-width="1.25"/>
<line x1="81.5" y1="65.2" x2="103.5" y2="65.2" stroke="#0000ff" stroke-width="1.25" stroke-dasharray="4 1.5 1.2 1.5"/>
<polygon points="92.4,62.69 89.7,66.74 95.1,66.74" fill="#fff" stroke="#0000ff" stroke-width="1.1" stroke-linejoin="miter"/>
<line x1="81.5" y1="79.8" x2="103.5" y2="79.8" stroke="#0000ff" stroke-width="1.0" stroke-dasharray="1 2"/>
<polygon points="92.4,82.31 89.7,78.26 95.1,78.26" fill="#fff" stroke="#0000ff" stroke-width="1.1" stroke-linejoin="miter"/>
<line x1="81.5" y1="94.3" x2="103.5" y2="94.3" stroke="#ff6060" stroke-width="1.0" stroke-dasharray="3 2.5"/>
<circle cx="92.4" cy="94.3" r="2.7" fill="#c97b54" stroke="#ff1a1a" stroke-width="0.95"/>
<text x="104.3" y="53.6" font-family='"Liberation Serif",serif' font-size="12.5" fill="#3a3a3a" textLength="72.3" lengthAdjust="spacing">stoichiometric</text>
<text x="104.3" y="68.2" font-family='"Liberation Serif",serif' font-size="12.5" fill="#3a3a3a" textLength="123.5" lengthAdjust="spacing">oversaturated +11% O<tspan font-size="8.8" dy="1.8">2</tspan></text>
<text x="104.3" y="82.8" font-family='"Liberation Serif",serif' font-size="12.5" fill="#3a3a3a" textLength="127.2" lengthAdjust="spacing">undersaturated -11% O<tspan font-size="8.8" dy="1.8">2</tspan></text>
<text x="104.3" y="97.3" font-family='"Liberation Serif",serif' font-size="12.5" fill="#3a3a3a" textLength="147.7" lengthAdjust="spacing">stoichiometric: Δ<tspan font-style="italic">T</tspan> = 200 K</text>
<rect x="295.2" y="55.8" width="151" height="36.2" fill="#fff" stroke="#5a5a5a" stroke-width="1.1"/>
<line x1="297" y1="63.9" x2="319" y2="63.9" stroke="#ff1a1a" stroke-width="1.3" />
<circle cx="308.2" cy="63.9" r="2.9" fill="#c97b54" stroke="#ff1a1a" stroke-width="1.1"/>
<line x1="297" y1="80.5" x2="319" y2="80.5" stroke="#ff1a1a" stroke-width="1.3" stroke-dasharray="4 1.5 1.2 1.5"/>
<polygon points="308.2,78.18 305.6,82.08 310.8,82.08" fill="#fff" stroke="#ff1a1a" stroke-width="1.25" stroke-linejoin="miter"/>
<text x="321.3" y="68.5" font-family='"Liberation Sans",sans-serif' font-size="12.0" text-anchor="start" fill="#000" font-weight="normal" font-style="normal"  stroke="#000" stroke-width="0.22">stoichiometric</text>
<text x="321.3" y="84.4" font-family='"Liberation Sans",sans-serif' font-size="12.0" stroke="#000" stroke-width="0.22">oversaturated +11% O<tspan font-size="9" dx="-0.5" dy="4.6">2</tspan></text>
<g stroke="#3c3c3c" stroke-width="1.1" fill="none">
<rect x="508.7" y="57.4" width="166.6" height="120.9"/>
<line x1="504.7" y1="178.3" x2="508.7" y2="178.3"/>
<line x1="675.3" y1="178.3" x2="679.3" y2="178.3"/>
<line x1="506.5" y1="169.66" x2="508.7" y2="169.66"/>
<line x1="675.3" y1="169.66" x2="677.5" y2="169.66"/>
<line x1="506.5" y1="161.03" x2="508.7" y2="161.03"/>
<line x1="675.3" y1="161.03" x2="677.5" y2="161.03"/>
<line x1="506.5" y1="152.39" x2="508.7" y2="152.39"/>
<line x1="675.3" y1="152.39" x2="677.5" y2="152.39"/>
<line x1="504.7" y1="143.76" x2="508.7" y2="143.76"/>
<line x1="675.3" y1="143.76" x2="679.3" y2="143.76"/>
<line x1="506.5" y1="135.12" x2="508.7" y2="135.12"/>
<line x1="675.3" y1="135.12" x2="677.5" y2="135.12"/>
<line x1="506.5" y1="126.49" x2="508.7" y2="126.49"/>
<line x1="675.3" y1="126.49" x2="677.5" y2="126.49"/>
<line x1="506.5" y1="117.85" x2="508.7" y2="117.85"/>
<line x1="675.3" y1="117.85" x2="677.5" y2="117.85"/>
<line x1="504.7" y1="109.21" x2="508.7" y2="109.21"/>
<line x1="675.3" y1="109.21" x2="679.3" y2="109.21"/>
<line x1="506.5" y1="100.58" x2="508.7" y2="100.58"/>
<line x1="675.3" y1="100.58" x2="677.5" y2="100.58"/>
<line x1="506.5" y1="91.94" x2="508.7" y2="91.94"/>
<line x1="675.3" y1="91.94" x2="677.5" y2="91.94"/>
<line x1="506.5" y1="83.31" x2="508.7" y2="83.31"/>
<line x1="675.3" y1="83.31" x2="677.5" y2="83.31"/>
<line x1="504.7" y1="74.67" x2="508.7" y2="74.67"/>
<line x1="675.3" y1="74.67" x2="679.3" y2="74.67"/>
<line x1="506.5" y1="66.04" x2="508.7" y2="66.04"/>
<line x1="675.3" y1="66.04" x2="677.5" y2="66.04"/>
<line x1="506.5" y1="57.4" x2="508.7" y2="57.4"/>
<line x1="675.3" y1="57.4" x2="677.5" y2="57.4"/>
<line x1="508.7" y1="178.3" x2="508.7" y2="182.3"/>
<line x1="508.7" y1="53.4" x2="508.7" y2="57.4"/>
<line x1="529.52" y1="178.3" x2="529.52" y2="180.5"/>
<line x1="529.52" y1="55.2" x2="529.52" y2="57.4"/>
<line x1="550.35" y1="178.3" x2="550.35" y2="182.3"/>
<line x1="550.35" y1="53.4" x2="550.35" y2="57.4"/>
<line x1="571.17" y1="178.3" x2="571.17" y2="180.5"/>
<line x1="571.17" y1="55.2" x2="571.17" y2="57.4"/>
<line x1="592" y1="178.3" x2="592" y2="182.3"/>
<line x1="592" y1="53.4" x2="592" y2="57.4"/>
<line x1="612.82" y1="178.3" x2="612.82" y2="180.5"/>
<line x1="612.82" y1="55.2" x2="612.82" y2="57.4"/>
<line x1="633.65" y1="178.3" x2="633.65" y2="182.3"/>
<line x1="633.65" y1="53.4" x2="633.65" y2="57.4"/>
<line x1="654.47" y1="178.3" x2="654.47" y2="180.5"/>
<line x1="654.47" y1="55.2" x2="654.47" y2="57.4"/>
<line x1="675.3" y1="178.3" x2="675.3" y2="182.3"/>
<line x1="675.3" y1="53.4" x2="675.3" y2="57.4"/>
</g>
<text x="501.2" y="184.5" font-family='"Liberation Sans",sans-serif' font-size="17" text-anchor="end" fill="#000" font-weight="normal" font-style="normal"  stroke="#000" stroke-width="0.22">0</text>
<text x="501.2" y="149.96" font-family='"Liberation Sans",sans-serif' font-size="17" text-anchor="end" fill="#000" font-weight="normal" font-style="normal"  stroke="#000" stroke-width="0.22">2</text>
<text x="501.2" y="115.41" font-family='"Liberation Sans",sans-serif' font-size="17" text-anchor="end" fill="#000" font-weight="normal" font-style="normal"  stroke="#000" stroke-width="0.22">4</text>
<text x="501.2" y="80.87" font-family='"Liberation Sans",sans-serif' font-size="17" text-anchor="end" fill="#000" font-weight="normal" font-style="normal"  stroke="#000" stroke-width="0.22">6</text>
<text transform="translate(486,117.85) rotate(-90)" font-family='"Liberation Sans",sans-serif' font-size="17.5" text-anchor="middle" stroke="#000" stroke-width="0.22"><tspan font-style="italic">g</tspan> (<tspan font-style="italic">r</tspan>)</text>
<g stroke="#3c3c3c" stroke-width="1.1" fill="none">
<rect x="508.7" y="201.5" width="166.6" height="120.6"/>
<line x1="504.7" y1="322.1" x2="508.7" y2="322.1"/>
<line x1="675.3" y1="322.1" x2="679.3" y2="322.1"/>
<line x1="506.5" y1="313.49" x2="508.7" y2="313.49"/>
<line x1="675.3" y1="313.49" x2="677.5" y2="313.49"/>
<line x1="506.5" y1="304.87" x2="508.7" y2="304.87"/>
<line x1="675.3" y1="304.87" x2="677.5" y2="304.87"/>
<line x1="506.5" y1="296.26" x2="508.7" y2="296.26"/>
<line x1="675.3" y1="296.26" x2="677.5" y2="296.26"/>
<line x1="504.7" y1="287.64" x2="508.7" y2="287.64"/>
<line x1="675.3" y1="287.64" x2="679.3" y2="287.64"/>
<line x1="506.5" y1="279.03" x2="508.7" y2="279.03"/>
<line x1="675.3" y1="279.03" x2="677.5" y2="279.03"/>
<line x1="506.5" y1="270.41" x2="508.7" y2="270.41"/>
<line x1="675.3" y1="270.41" x2="677.5" y2="270.41"/>
<line x1="506.5" y1="261.8" x2="508.7" y2="261.8"/>
<line x1="675.3" y1="261.8" x2="677.5" y2="261.8"/>
<line x1="504.7" y1="253.19" x2="508.7" y2="253.19"/>
<line x1="675.3" y1="253.19" x2="679.3" y2="253.19"/>
<line x1="506.5" y1="244.57" x2="508.7" y2="244.57"/>
<line x1="675.3" y1="244.57" x2="677.5" y2="244.57"/>
<line x1="506.5" y1="235.96" x2="508.7" y2="235.96"/>
<line x1="675.3" y1="235.96" x2="677.5" y2="235.96"/>
<line x1="506.5" y1="227.34" x2="508.7" y2="227.34"/>
<line x1="675.3" y1="227.34" x2="677.5" y2="227.34"/>
<line x1="504.7" y1="218.73" x2="508.7" y2="218.73"/>
<line x1="675.3" y1="218.73" x2="679.3" y2="218.73"/>
<line x1="506.5" y1="210.11" x2="508.7" y2="210.11"/>
<line x1="675.3" y1="210.11" x2="677.5" y2="210.11"/>
<line x1="506.5" y1="201.5" x2="508.7" y2="201.5"/>
<line x1="675.3" y1="201.5" x2="677.5" y2="201.5"/>
<line x1="508.7" y1="322.1" x2="508.7" y2="326.1"/>
<line x1="508.7" y1="197.5" x2="508.7" y2="201.5"/>
<line x1="529.52" y1="322.1" x2="529.52" y2="324.3"/>
<line x1="529.52" y1="199.3" x2="529.52" y2="201.5"/>
<line x1="550.35" y1="322.1" x2="550.35" y2="326.1"/>
<line x1="550.35" y1="197.5" x2="550.35" y2="201.5"/>
<line x1="571.17" y1="322.1" x2="571.17" y2="324.3"/>
<line x1="571.17" y1="199.3" x2="571.17" y2="201.5"/>
<line x1="592" y1="322.1" x2="592" y2="326.1"/>
<line x1="592" y1="197.5" x2="592" y2="201.5"/>
<line x1="612.82" y1="322.1" x2="612.82" y2="324.3"/>
<line x1="612.82" y1="199.3" x2="612.82" y2="201.5"/>
<line x1="633.65" y1="322.1" x2="633.65" y2="326.1"/>
<line x1="633.65" y1="197.5" x2="633.65" y2="201.5"/>
<line x1="654.47" y1="322.1" x2="654.47" y2="324.3"/>
<line x1="654.47" y1="199.3" x2="654.47" y2="201.5"/>
<line x1="675.3" y1="322.1" x2="675.3" y2="326.1"/>
<line x1="675.3" y1="197.5" x2="675.3" y2="201.5"/>
</g>
<text x="501.2" y="328.3" font-family='"Liberation Sans",sans-serif' font-size="17" text-anchor="end" fill="#000" font-weight="normal" font-style="normal"  stroke="#000" stroke-width="0.22">0</text>
<text x="501.2" y="293.84" font-family='"Liberation Sans",sans-serif' font-size="17" text-anchor="end" fill="#000" font-weight="normal" font-style="normal"  stroke="#000" stroke-width="0.22">2</text>
<text x="501.2" y="259.39" font-family='"Liberation Sans",sans-serif' font-size="17" text-anchor="end" fill="#000" font-weight="normal" font-style="normal"  stroke="#000" stroke-width="0.22">4</text>
<text x="501.2" y="224.93" font-family='"Liberation Sans",sans-serif' font-size="17" text-anchor="end" fill="#000" font-weight="normal" font-style="normal"  stroke="#000" stroke-width="0.22">6</text>
<text transform="translate(486,261.8) rotate(-90)" font-family='"Liberation Sans",sans-serif' font-size="17.5" text-anchor="middle" stroke="#000" stroke-width="0.22"><tspan font-style="italic">g</tspan> (<tspan font-style="italic">r</tspan>)</text>
<text x="508.7" y="347.5" font-family='"Liberation Sans",sans-serif' font-size="17" text-anchor="middle" fill="#000" font-weight="normal" font-style="normal"  stroke="#000" stroke-width="0.22">0</text>
<text x="592" y="347.5" font-family='"Liberation Sans",sans-serif' font-size="17" text-anchor="middle" fill="#000" font-weight="normal" font-style="normal"  stroke="#000" stroke-width="0.22">2</text>
<text x="675.3" y="347.5" font-family='"Liberation Sans",sans-serif' font-size="17" text-anchor="middle" fill="#000" font-weight="normal" font-style="normal"  stroke="#000" stroke-width="0.22">4</text>
<text x="594.5" y="368.8" font-family='"Liberation Sans",sans-serif' font-size="17.5" text-anchor="middle" stroke="#000" stroke-width="0.22"><tspan font-style="italic">r</tspan> (Å)</text>
<defs><clipPath id="cpT"><rect x="508.7" y="50" width="166.6" height="130"/></clipPath><clipPath id="cpB"><rect x="508.7" y="195" width="166.6" height="128.8"/></clipPath></defs>
<g clip-path="url(#cpT)">
<path d="M508.7,178.3 C517.25,178.3 551.03,178.88 560,178.3 C568.97,177.72 561.83,178.47 562.5,174.8 C563.17,171.13 563.5,164.52 564,156.3 C564.5,148.08 564.93,135.75 565.5,125.5 C566.07,115.25 566.83,103.38 567.4,94.8 C567.97,86.22 568.55,78.22 568.9,74 C569.25,69.78 569.3,69.5 569.5,69.5 C569.7,69.5 569.73,69.78 570.1,74 C570.47,78.22 571.13,86.22 571.7,94.8 C572.27,103.38 572.88,115.25 573.5,125.5 C574.12,135.75 574.78,148.08 575.4,156.3 C576.02,164.52 576.6,171.13 577.2,174.8 C577.8,178.47 577.7,177.72 579,178.3 C580.3,178.88 583.5,178.35 585,178.3 C586.5,178.25 587,178.25 588,178 C589,177.75 590,177.63 591,176.8 C592,175.97 593,175.13 594,173 C595,170.87 595.9,166.85 597,164 C598.1,161.15 599.45,156.82 600.6,155.9 C601.75,154.98 602.68,159.07 603.9,158.5 C605.12,157.93 606.8,153.17 607.9,152.5 C609,151.83 609.28,152.83 610.5,154.5 C611.72,156.17 613.65,162.27 615.2,162.5 C616.75,162.73 618.48,156.57 619.8,155.9 C621.12,155.23 621.77,157.4 623.1,158.5 C624.43,159.6 626.13,161.4 627.8,162.5 C629.47,163.6 631.85,164.6 633.1,165.1 C634.35,165.6 634.4,165 635.3,165.5 C636.2,166 637.35,167.22 638.5,168.1 C639.65,168.98 641.05,170.8 642.2,170.8 C643.35,170.8 644.43,169.6 645.4,168.1 C646.37,166.6 647.03,163.65 648,161.8 C648.97,159.95 649.68,158.42 651.2,157 C652.72,155.58 655.33,153.38 657.1,153.3 C658.87,153.22 660.48,155.62 661.8,156.5 C663.12,157.38 664.02,157.72 665,158.6 C665.98,159.48 666.82,161.18 667.7,161.8 C668.58,162.42 669.5,162.4 670.3,162.3 C671.1,162.2 671.55,161.55 672.5,161.2 C673.45,160.85 675.42,160.37 676,160.2" fill="none" stroke="#111" stroke-width="1.45" stroke-linejoin="round" stroke-dasharray="3.8 1.9 1.5 1.8"/>
<path d="M508.7,178.3 C515.42,178.3 541.83,178.63 549,178.3 C556.17,177.97 550.95,178.43 551.7,176.3 C552.45,174.17 552.83,171.4 553.5,165.5 C554.17,159.6 555.08,147.65 555.7,140.9 C556.32,134.15 556.78,128.33 557.2,125 C557.62,121.67 557.85,121.07 558.2,120.9 C558.55,120.73 558.88,121.15 559.3,124 C559.72,126.85 560.28,134.75 560.7,138 C561.12,141.25 561.42,143.83 561.8,143.5 C562.18,143.17 562.55,140.08 563,136 C563.45,131.92 564.08,122.53 564.5,119 C564.92,115.47 565.2,114.63 565.5,114.8 C565.8,114.97 566.03,115.65 566.3,120 C566.57,124.35 566.77,133.32 567.1,140.9 C567.43,148.48 567.9,159.6 568.3,165.5 C568.7,171.4 569.05,174.17 569.5,176.3 C569.95,178.43 568.42,177.97 571,178.3 C573.58,178.63 582.17,178.42 585,178.3 C587.83,178.18 586.83,178.07 588,177.6 C589.17,177.13 590.67,176.93 592,175.5 C593.33,174.07 594.67,171.25 596,169 C597.33,166.75 598.87,164.58 600,162 C601.13,159.42 601.7,155.52 602.8,153.5 C603.9,151.48 605.32,149.83 606.6,149.9 C607.88,149.97 608.95,152.68 610.5,153.9 C612.05,155.12 614.12,156.43 615.9,157.2 C617.68,157.97 619.22,158.07 621.2,158.5 C623.18,158.93 625.98,159.45 627.8,159.8 C629.62,160.15 630.67,160.37 632.1,160.6 C633.53,160.83 634.8,161.1 636.4,161.2 C638,161.3 640.28,161.55 641.7,161.2 C643.12,160.85 643.85,159.88 644.9,159.1 C645.95,158.32 647.12,156.68 648,156.5 C648.88,156.32 649.3,157.03 650.2,158 C651.1,158.97 652.17,161.4 653.4,162.3 C654.63,163.2 656.37,163.22 657.6,163.4 C658.83,163.58 659.73,163.5 660.8,163.4 C661.87,163.3 662.93,162.9 664,162.8 C665.07,162.7 666.15,162.97 667.2,162.8 C668.25,162.63 669.25,162.23 670.3,161.8 C671.35,161.37 672.55,160.38 673.5,160.2 C674.45,160.02 675.58,160.62 676,160.7" fill="none" stroke="#d95319" stroke-width="1.3" stroke-linejoin="round" stroke-dasharray="3.8 1.9 1.5 1.8"/>
<path d="M508.7,178.3 C515.75,178.3 543.53,178.42 551,178.3 C558.47,178.18 552.72,178.7 553.5,177.6 C554.28,176.5 555.08,174.05 555.7,171.7 C556.32,169.35 556.78,165.3 557.2,163.5 C557.62,161.7 557.85,160.9 558.2,160.9 C558.55,160.9 558.85,161.7 559.3,163.5 C559.75,165.3 560.32,169.57 560.9,171.7 C561.48,173.83 561.95,175.48 562.8,176.3 C563.65,177.12 564.8,176.45 566,176.6 C567.2,176.75 568.67,177.17 570,177.2 C571.33,177.23 572.67,176.78 574,176.8 C575.33,176.82 576.83,177.33 578,177.3 C579.17,177.27 579.9,176.87 581,176.6 C582.1,176.33 583.6,175.63 584.6,175.7 C585.6,175.77 586.1,176.85 587,177 C587.9,177.15 589.17,176.8 590,176.6 C590.83,176.4 591.23,176.72 592,175.8 C592.77,174.88 593.83,172.98 594.6,171.1 C595.37,169.22 595.93,167.15 596.6,164.5 C597.27,161.85 597.82,158.73 598.6,155.2 C599.38,151.67 600.3,146.28 601.3,143.3 C602.3,140.32 603.62,138.52 604.6,137.3 C605.58,136.08 606.32,135.88 607.2,136 C608.08,136.12 608.9,136.78 609.9,138 C610.9,139.22 612.1,141.53 613.2,143.3 C614.3,145.07 615.28,146.73 616.5,148.6 C617.72,150.47 619.28,153.73 620.5,154.5 C621.72,155.27 622.8,152.87 623.8,153.2 C624.8,153.53 625.4,155.07 626.5,156.5 C627.6,157.93 629.28,160.38 630.4,161.8 C631.52,163.22 632.2,163.77 633.2,165 C634.2,166.23 635.33,168.77 636.4,169.2 C637.47,169.63 638.55,167.78 639.6,167.6 C640.65,167.42 641.65,167.92 642.7,168.1 C643.75,168.28 644.92,169.05 645.9,168.7 C646.88,168.35 647.62,167.15 648.6,166 C649.58,164.85 650.65,162.15 651.8,161.8 C652.95,161.45 654.35,163.5 655.5,163.9 C656.65,164.3 657.73,163.93 658.7,164.2 C659.67,164.47 660.42,165.55 661.3,165.5 C662.18,165.45 663.12,164.43 664,163.9 C664.88,163.37 665.63,162.22 666.6,162.3 C667.57,162.38 668.82,164.32 669.8,164.4 C670.78,164.48 671.47,163.33 672.5,162.8 C673.53,162.27 675.42,161.47 676,161.2" fill="none" stroke="#00f0f0" stroke-width="1.9" stroke-linejoin="round"/>
</g><g clip-path="url(#cpB)">
<path d="M508.7,322.1 C517.25,322.1 551.08,322.67 560,322.1 C568.92,321.53 561.55,321.5 562.2,318.7 C562.85,315.9 563.33,311.6 563.9,305.3 C564.47,299 565,289.05 565.6,280.9 C566.2,272.75 566.93,263.05 567.5,256.4 C568.07,249.75 568.67,244.05 569,241 C569.33,237.95 569.32,238.1 569.5,238.1 C569.68,238.1 569.73,237.95 570.1,241 C570.47,244.05 571.15,249.75 571.7,256.4 C572.25,263.05 572.87,272.75 573.4,280.9 C573.93,289.05 574.37,299.2 574.9,305.3 C575.43,311.4 576,314.8 576.6,317.5 C577.2,320.2 577.93,320.73 578.5,321.5 C579.07,322.27 578.83,322 580,322.1 C581.17,322.2 584.17,322.3 585.5,322.1 C586.83,321.9 587.1,322.18 588,320.9 C588.9,319.62 589.83,317.15 590.9,314.4 C591.97,311.65 593.45,306.43 594.4,304.4 C595.35,302.37 595.52,302.32 596.6,302.2 C597.68,302.08 599.35,304.77 600.9,303.7 C602.45,302.63 604.58,296.52 605.9,295.8 C607.22,295.08 607.85,297.73 608.8,299.4 C609.75,301.07 610.53,304.25 611.6,305.8 C612.67,307.35 614,308.58 615.2,308.7 C616.4,308.82 617.6,306.98 618.8,306.5 C620,306.02 621.33,305.43 622.4,305.8 C623.47,306.17 624.02,308.22 625.2,308.7 C626.38,309.18 628.07,308.85 629.5,308.7 C630.93,308.55 632.8,308.2 633.8,307.8 C634.8,307.4 634.73,306.85 635.5,306.3 C636.27,305.75 637.43,304.8 638.4,304.5 C639.37,304.2 640.32,304.6 641.3,304.5 C642.28,304.4 643.32,304.48 644.3,303.9 C645.28,303.32 646.23,302.07 647.2,301 C648.17,299.93 649.23,297.78 650.1,297.5 C650.97,297.22 651.72,298.32 652.4,299.3 C653.08,300.28 653.42,302.63 654.2,303.4 C654.98,304.17 656.13,303.82 657.1,303.9 C658.07,303.98 658.93,303.8 660,303.9 C661.07,304 662.33,304.4 663.5,304.5 C664.67,304.6 665.83,304.3 667,304.5 C668.17,304.7 669,305.7 670.5,305.7 C672,305.7 675.08,304.7 676,304.5" fill="none" stroke="#111" stroke-width="1.45" stroke-linejoin="round" stroke-dasharray="3.8 1.9 1.5 1.8"/>
<path d="M508.7,322.1 C515.75,322.1 543.55,322.67 551,322.1 C558.45,321.53 552.68,320.28 553.4,318.7 C554.12,317.12 554.65,315.65 555.3,312.6 C555.95,309.55 556.68,305.68 557.3,300.4 C557.92,295.12 558.32,288.23 559,280.9 C559.68,273.57 560.7,263.05 561.4,256.4 C562.1,249.75 562.78,243.93 563.2,241 C563.62,238.07 563.65,238.8 563.9,238.8 C564.15,238.8 564.3,238.07 564.7,241 C565.1,243.93 565.75,249.75 566.3,256.4 C566.85,263.05 567.47,272.75 568,280.9 C568.53,289.05 568.97,299 569.5,305.3 C570.03,311.6 570.62,315.98 571.2,318.7 C571.78,321.42 572.2,321.03 573,321.6 C573.8,322.17 573.92,322.02 576,322.1 C578.08,322.18 583.5,322.43 585.5,322.1 C587.5,321.77 587.1,321.15 588,320.1 C588.9,319.05 589.83,317.7 590.9,315.8 C591.97,313.9 593.22,311.2 594.4,308.7 C595.58,306.2 596.8,303.32 598,300.8 C599.2,298.28 600.45,295.52 601.6,293.6 C602.75,291.68 603.95,289.65 604.9,289.3 C605.85,288.95 606.53,290.18 607.3,291.5 C608.07,292.82 608.65,295.17 609.5,297.2 C610.35,299.23 611.45,302.87 612.4,303.7 C613.35,304.53 614.25,302.68 615.2,302.2 C616.15,301.72 617.02,300.55 618.1,300.8 C619.18,301.05 620.52,302.63 621.7,303.7 C622.88,304.77 623.9,306.37 625.2,307.2 C626.5,308.03 628.37,308.57 629.5,308.7 C630.63,308.83 631,308.4 632,308 C633,307.6 634.33,307.07 635.5,306.3 C636.67,305.53 637.83,304.18 639,303.4 C640.17,302.62 641.33,301.8 642.5,301.6 C643.67,301.4 644.83,301.9 646,302.2 C647.17,302.5 648.33,303.12 649.5,303.4 C650.67,303.68 651.83,303.32 653,303.9 C654.17,304.48 655.33,306.5 656.5,306.9 C657.67,307.3 658.83,306.6 660,306.3 C661.17,306 662.33,305.1 663.5,305.1 C664.67,305.1 665.83,306 667,306.3 C668.17,306.6 669,307.1 670.5,306.9 C672,306.7 675.08,305.4 676,305.1" fill="none" stroke="#d95319" stroke-width="1.3" stroke-linejoin="round" stroke-dasharray="3.8 1.9 1.5 1.8"/>
<path d="M508.7,322.1 C508.78,322.1 509.03,322.1 509.2,322.1 C509.37,322.1 509.53,322.1 509.7,322.1 C509.87,322.1 510.03,322.1 510.2,322.1 C510.37,322.1 510.53,322.1 510.7,322.1 C510.87,322.1 511.03,322.1 511.2,322.1 C511.37,322.1 511.53,322.1 511.7,322.1 C511.87,322.1 512.03,322.1 512.2,322.1 C512.37,322.1 512.53,322.1 512.7,322.1 C512.87,322.1 513.03,322.1 513.2,322.1 C513.37,322.1 513.53,322.1 513.7,322.1 C513.87,322.1 514.03,322.1 514.2,322.1 C514.37,322.1 514.53,322.1 514.7,322.1 C514.87,322.1 515.03,322.1 515.2,322.1 C515.37,322.1 515.53,322.1 515.7,322.1 C515.87,322.1 516.03,322.1 516.2,322.1 C516.37,322.1 516.53,322.1 516.7,322.1 C516.87,322.1 517.03,322.1 517.2,322.1 C517.37,322.1 517.53,322.1 517.7,322.1 C517.87,322.1 518.03,322.1 518.2,322.1 C518.37,322.1 518.53,322.1 518.7,322.1 C518.87,322.1 519.03,322.1 519.2,322.1 C519.37,322.1 519.53,322.1 519.7,322.1 C519.87,322.1 520.03,322.1 520.2,322.1 C520.37,322.1 520.53,322.1 520.7,322.1 C520.87,322.1 521.03,322.1 521.2,322.1 C521.37,322.1 521.53,322.1 521.7,322.1 C521.87,322.1 522.03,322.1 522.2,322.1 C522.37,322.1 522.53,322.1 522.7,322.1 C522.87,322.1 523.03,322.1 523.2,322.1 C523.37,322.1 523.53,322.1 523.7,322.1 C523.87,322.1 524.03,322.1 524.2,322.1 C524.37,322.1 524.53,322.1 524.7,322.1 C524.87,322.1 525.03,322.1 525.2,322.1 C525.37,322.1 525.53,322.1 525.7,322.1 C525.87,322.1 526.03,322.1 526.2,322.1 C526.37,322.1 526.53,322.1 526.7,322.1 C526.87,322.1 527.03,322.1 527.2,322.1 C527.37,322.1 527.53,322.1 527.7,322.1 C527.87,322.1 528.03,322.1 528.2,322.1 C528.37,322.1 528.53,322.1 528.7,322.1 C528.87,322.1 529.03,322.1 529.2,322.1 C529.37,322.1 529.53,322.1 529.7,322.1 C529.87,322.1 530.03,322.1 530.2,322.1 C530.37,322.1 530.53,322.1 530.7,322.1 C530.87,322.1 531.03,322.1 531.2,322.1 C531.37,322.1 531.53,322.1 531.7,322.1 C531.87,322.1 532.03,322.1 532.2,322.1 C532.37,322.1 532.53,322.1 532.7,322.1 C532.87,322.1 533.03,322.1 533.2,322.1 C533.37,322.1 533.53,322.1 533.7,322.1 C533.87,322.1 534.03,322.1 534.2,322.1 C534.37,322.1 534.53,322.1 534.7,322.1 C534.87,322.1 535.03,322.1 535.2,322.1 C535.37,322.1 535.53,322.1 535.7,322.1 C535.87,322.1 536.03,322.1 536.2,322.1 C536.37,322.1 536.53,322.1 536.7,322.1 C536.87,322.1 537.03,322.1 537.2,322.1 C537.37,322.1 537.53,322.1 537.7,322.1 C537.87,322.1 538.03,322.1 538.2,322.1 C538.37,322.1 538.53,322.1 538.7,322.1 C538.87,322.1 539.03,322.1 539.2,322.1 C539.37,322.1 539.53,322.1 539.7,322.1 C539.87,322.1 540.03,322.1 540.2,322.1 C540.37,322.1 540.53,322.1 540.7,322.1 C540.87,322.1 541.03,322.1 541.2,322.1 C541.37,322.1 541.53,322.1 541.7,322.1 C541.87,322.1 542.03,322.1 542.2,322.1 C542.37,322.1 542.53,322.1 542.7,322.1 C542.87,322.1 543.03,322.1 543.2,322.1 C543.37,322.1 543.53,322.1 543.7,322.1 C543.87,322.1 544.03,322.1 544.2,322.1 C544.37,322.1 544.53,322.1 544.7,322.1 C544.87,322.1 545.03,322.1 545.2,322.1 C545.37,322.1 545.53,322.1 545.7,322.1 C545.87,322.1 546.03,322.1 546.2,322.1 C546.37,322.1 546.53,322.1 546.7,322.1 C546.87,322.1 547.03,322.1 547.2,322.1 C547.37,322.1 547.53,322.1 547.7,322.1 C547.87,322.1 548.03,322.1 548.2,322.1 C548.37,322.1 548.53,322.1 548.7,322.1 C548.87,322.1 549.03,322.1 549.2,322.1 C549.37,322.1 549.53,322.1 549.7,322.1 C549.87,322.1 550.03,322.1 550.2,322.1 C550.37,322.1 550.53,322.1 550.7,322.1 C550.87,322.1 551.03,322.09 551.2,322.09 C551.37,322.09 551.53,322.08 551.7,322.07 C551.87,322.06 552.03,322.05 552.2,322.03 C552.37,322 552.53,321.98 552.7,321.92 C552.87,321.87 553.03,321.81 553.2,321.71 C553.37,321.61 553.53,321.49 553.7,321.32 C553.87,321.14 554.03,320.93 554.2,320.66 C554.37,320.38 554.53,320.05 554.7,319.65 C554.87,319.26 555.03,318.79 555.2,318.3 C555.37,317.8 555.53,317.23 555.7,316.68 C555.87,316.13 556.03,315.52 556.2,315.01 C556.37,314.5 556.53,313.97 556.7,313.6 C556.87,313.22 557.03,312.9 557.2,312.75 C557.37,312.59 557.53,312.56 557.7,312.67 C557.87,312.77 558.03,313.03 558.2,313.37 C558.37,313.71 558.53,314.2 558.7,314.69 C558.87,315.19 559.03,315.78 559.2,316.33 C559.37,316.87 559.53,317.46 559.7,317.96 C559.87,318.47 560.03,318.95 560.2,319.35 C560.37,319.74 560.53,320.08 560.7,320.34 C560.87,320.61 561.03,320.79 561.2,320.91 C561.37,321.04 561.53,321.08 561.7,321.07 C561.87,321.06 562.03,320.98 562.2,320.84 C562.37,320.7 562.53,320.5 562.7,320.25 C562.87,320 563.03,319.68 563.2,319.33 C563.37,318.98 563.53,318.56 563.7,318.15 C563.87,317.74 564.03,317.28 564.2,316.86 C564.37,316.44 564.53,316 564.7,315.65 C564.87,315.3 565.03,314.97 565.2,314.75 C565.37,314.53 565.53,314.38 565.7,314.34 C565.87,314.3 566.03,314.37 566.2,314.52 C566.37,314.67 566.53,314.94 566.7,315.24 C566.87,315.55 567.03,315.96 567.2,316.36 C567.37,316.76 567.53,317.22 567.7,317.65 C567.87,318.07 568.03,318.52 568.2,318.9 C568.37,319.29 568.53,319.66 568.7,319.98 C568.87,320.29 569.03,320.56 569.2,320.79 C569.37,321.02 569.53,321.2 569.7,321.36 C569.87,321.51 570.03,321.61 570.2,321.71 C570.37,321.8 570.53,321.85 570.7,321.9 C570.87,321.95 571.03,321.98 571.2,322 C571.37,322.03 571.53,322.04 571.7,322.04 C571.87,322.05 572.03,322.05 572.2,322.05 C572.37,322.04 572.53,322.04 572.7,322.03 C572.87,322.02 573.03,322 573.2,321.98 C573.37,321.96 573.53,321.94 573.7,321.91 C573.87,321.87 574.03,321.84 574.2,321.79 C574.37,321.75 574.53,321.7 574.7,321.63 C574.87,321.57 575.03,321.5 575.2,321.42 C575.37,321.33 575.53,321.24 575.7,321.14 C575.87,321.04 576.03,320.92 576.2,320.8 C576.37,320.68 576.53,320.55 576.7,320.42 C576.87,320.29 577.03,320.14 577.2,320.01 C577.37,319.87 577.53,319.72 577.7,319.59 C577.87,319.46 578.03,319.33 578.2,319.21 C578.37,319.1 578.53,318.99 578.7,318.91 C578.87,318.83 579.03,318.76 579.2,318.71 C579.37,318.67 579.53,318.65 579.7,318.65 C579.87,318.65 580.03,318.67 580.2,318.71 C580.37,318.76 580.53,318.83 580.7,318.91 C580.87,318.99 581.03,319.1 581.2,319.21 C581.37,319.33 581.53,319.46 581.7,319.59 C581.87,319.72 582.03,319.87 582.2,320.01 C582.37,320.14 582.53,320.29 582.7,320.42 C582.87,320.55 583.03,320.68 583.2,320.8 C583.37,320.92 583.53,321.04 583.7,321.14 C583.87,321.24 584.03,321.33 584.2,321.42 C584.37,321.5 584.53,321.57 584.7,321.63 C584.87,321.7 584.65,322.16 585.2,321.79 C585.75,321.42 587.18,320.63 588,319.4 C588.82,318.17 589.27,317.13 590.1,314.4 C590.93,311.67 592.03,307.3 593,303 C593.97,298.7 594.95,293.15 595.9,288.6 C596.85,284.05 597.95,279.27 598.7,275.7 C599.45,272.13 599.93,268.4 600.4,267.2 C600.87,266 600.93,266.37 601.5,268.5 C602.07,270.63 603.07,276.77 603.8,280 C604.53,283.23 604.95,285.5 605.9,287.9 C606.85,290.3 608.42,291.65 609.5,294.4 C610.58,297.15 611.57,302.38 612.4,304.4 C613.23,306.42 613.55,306.03 614.5,306.5 C615.45,306.97 616.78,306.72 618.1,307.2 C619.42,307.68 620.97,308.68 622.4,309.4 C623.83,310.12 625.27,311.33 626.7,311.5 C628.13,311.67 629.53,310.5 631,310.4 C632.47,310.3 634.17,310.62 635.5,310.9 C636.83,311.18 637.83,312.28 639,312.1 C640.17,311.92 641.33,310.77 642.5,309.8 C643.67,308.83 644.83,306.98 646,306.3 C647.17,305.62 648.33,305.83 649.5,305.7 C650.67,305.57 651.83,305.3 653,305.5 C654.17,305.7 655.33,306.58 656.5,306.9 C657.67,307.22 658.83,307.5 660,307.4 C661.17,307.3 662.33,306.62 663.5,306.3 C664.67,305.98 665.83,305.7 667,305.5 C668.17,305.3 669,305.3 670.5,305.1 C672,304.9 675.08,304.43 676,304.3" fill="none" stroke="#00f0f0" stroke-width="1.9" stroke-linejoin="round"/>
</g>
<rect x="627.5" y="48.1" width="51.2" height="46" fill="#fff" stroke="#5a5a5a" stroke-width="1.1"/>
<line x1="630.1" y1="56.6" x2="651.8" y2="56.6" stroke="#111" stroke-width="1.2" stroke-dasharray="3.8 1.9 1.5 1.8"/>
<line x1="630.1" y1="71.3" x2="651.8" y2="71.3" stroke="#d95319" stroke-width="1.0" stroke-dasharray="3.8 1.9 1.5 1.8"/>
<line x1="630.1" y1="86.3" x2="651.8" y2="86.3" stroke="#00f0f0" stroke-width="1.6" />
<text x="653.2" y="60.8" font-family='"Liberation Sans",sans-serif' font-size="12.2" text-anchor="start" fill="#000" font-weight="normal" font-style="normal"  stroke="#000" stroke-width="0.22">C-C</text>
<text x="653.2" y="75.6" font-family='"Liberation Sans",sans-serif' font-size="12.2" text-anchor="start" fill="#000" font-weight="normal" font-style="normal"  stroke="#000" stroke-width="0.22">C-O</text>
<text x="653.2" y="90.4" font-family='"Liberation Sans",sans-serif' font-size="12.2" text-anchor="start" fill="#000" font-weight="normal" font-style="normal"  stroke="#000" stroke-width="0.22">O-O</text>
<line x1="596.7" y1="90.9" x2="602.7" y2="121.6" stroke="#2e6f9e" stroke-width="1.3" />
<line x1="619" y1="98.5" x2="625.3" y2="129.1" stroke="#2e6f9e" stroke-width="1.3" />
<circle cx="596.7" cy="90.9" r="5.6" fill="#ff0000" stroke="#d40000" stroke-width="0.8"/>
<circle cx="602.7" cy="121.6" r="5.6" fill="#ff0000" stroke="#d40000" stroke-width="0.8"/>
<circle cx="619" cy="98.5" r="5.6" fill="#ff0000" stroke="#d40000" stroke-width="0.8"/>
<circle cx="625.3" cy="129.1" r="5.6" fill="#ff0000" stroke="#d40000" stroke-width="0.8"/>
<text x="627" y="117.7" font-family='"Liberation Sans",sans-serif' font-size="12.2" text-anchor="start" fill="#000" font-weight="normal" font-style="normal"  stroke="#000" stroke-width="0.22">~1.2 Å</text>
<line x1="589.5" y1="224.6" x2="621" y2="224.3" stroke="#2e6f9e" stroke-width="1.3" />
<line x1="621" y1="224.3" x2="654" y2="248.4" stroke="#2e6f9e" stroke-width="1.3" />
<circle cx="589.5" cy="224.6" r="5.6" fill="#ff0000" stroke="#d40000" stroke-width="0.8"/>
<circle cx="621" cy="224.3" r="5.6" fill="#ff0000" stroke="#d40000" stroke-width="0.8"/>
<circle cx="654" cy="248.4" r="5.6" fill="#ff0000" stroke="#d40000" stroke-width="0.8"/>
<circle cx="660" cy="278.8" r="5.6" fill="#ff0000" stroke="#d40000" stroke-width="0.8"/>
<text x="588.6" y="218" font-family='"Liberation Sans",sans-serif' font-size="12.2" text-anchor="start" fill="#000" font-weight="normal" font-style="normal"  stroke="#000" stroke-width="0.22">&lt;1.2 Å</text>
<text x="635.6" y="235.4" font-family='"Liberation Sans",sans-serif' font-size="12.2" text-anchor="start" fill="#000" font-weight="normal" font-style="normal"  stroke="#000" stroke-width="0.22">~1.4 Å</text>
<text x="506.4" y="42.6" font-family='"Liberation Sans",sans-serif' font-size="13.4" stroke="#000" stroke-width="0.22">CO</text>
<text x="526.8" y="45.7" font-family='"Liberation Serif",serif' font-weight="bold" font-size="11.3" stroke="#000" stroke-width="0.3">1.88</text>
<text x="546.7" y="42.6" font-family='"Liberation Sans",sans-serif' font-size="13.4" stroke="#000" stroke-width="0.22">+O</text>
<text x="564.7" y="47" font-family='"Liberation Serif",serif' font-weight="bold" font-size="10" stroke="#000" stroke-width="0.3">2</text>
<text x="565.6" y="35.9" font-family='"Liberation Serif",serif' font-style="italic" font-size="10.8">(s)</text>
<text x="516.4" y="220.5" font-family='"Liberation Sans",sans-serif' font-size="13.1" stroke="#000" stroke-width="0.22">CO<tspan font-size="9.4" dx="0.6" dy="3.2">2</tspan></text>

</svg></body></html>
